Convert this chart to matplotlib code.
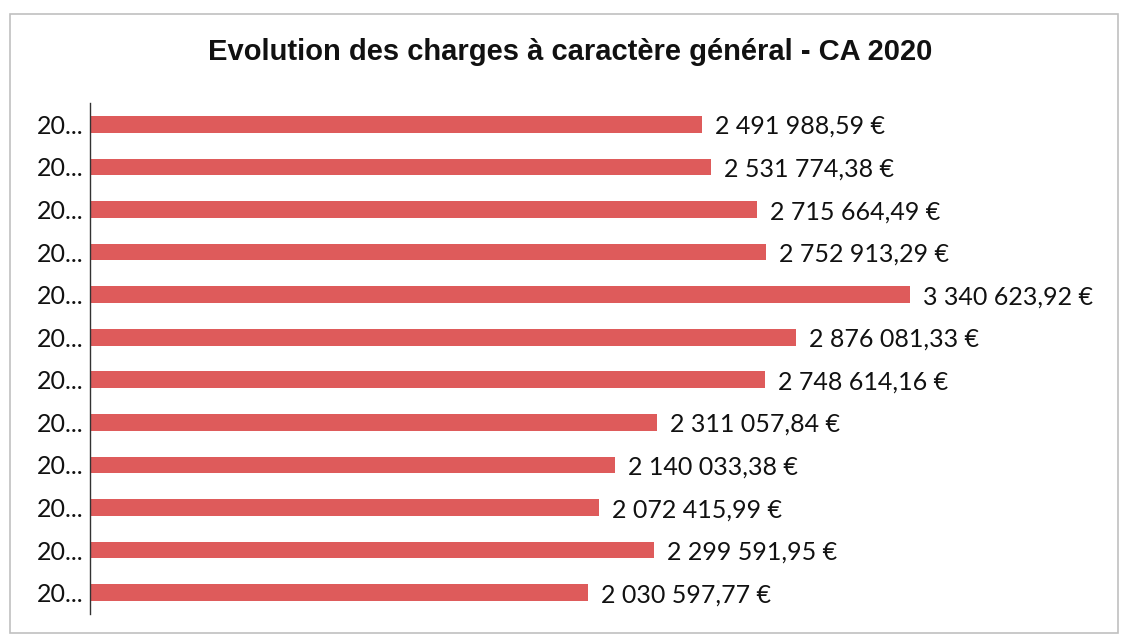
import matplotlib.pyplot as plt
from matplotlib.patches import Rectangle

# values top to bottom, as shown in the chart
labels = ["20..."] * 12
values = [2491988.59, 2531774.38, 2715664.49, 2752913.29, 3340623.92, 2876081.33,
          2748614.16, 2311057.84, 2140033.38, 2072415.99, 2299591.95, 2030597.77]
title = "Evolution des charges à caractère général - CA 2020"

bar_color = "#de5b5b"


def fmt_euro(v):
    s = "{:,.2f}".format(v)
    s = s.replace(",", " ").replace(".", ",")
    return s + " €"


fig = plt.figure(figsize=(11.23, 6.36), dpi=100)
ax = fig.add_axes([90 / 1123, 1 - 614 / 636, 1010 / 1123, 511 / 636])

pos = list(range(len(values)))
ax.barh(pos, values, height=0.39, color=bar_color)
ax.set_ylim(len(values) - 0.5, -0.5)
ax.set_xlim(0, 3340624 * 1010 / 820)

for p, v in zip(pos, values):
    ax.text(v + 3340624 * 13 / 820, p + 0.05, fmt_euro(v), va="center", ha="left",
            fontsize=18, family="Lato", color="#111111")

ax.set_yticks(pos)
ax.set_yticklabels(labels, fontsize=18, family="Lato", color="#111111")
ax.tick_params(axis="y", length=0, pad=5)
ax.set_xticks([])
for side in ["top", "right", "bottom"]:
    ax.spines[side].set_visible(False)
ax.spines["left"].set_color("#333333")
ax.spines["left"].set_linewidth(1.0)

fig.text(570 / 1123, 1 - 52 / 636, title, ha="center", va="center",
         fontsize=21, fontweight="bold", family="Liberation Sans", color="#111111")

# chart frame
fig.patches.append(Rectangle((10 / 1123, 1 - 633 / 636), 1108 / 1123, 619 / 636,
                             transform=fig.transFigure, fill=False,
                             edgecolor="#c0c0c0", linewidth=1.2))

fig.savefig("out.png", dpi=100)
